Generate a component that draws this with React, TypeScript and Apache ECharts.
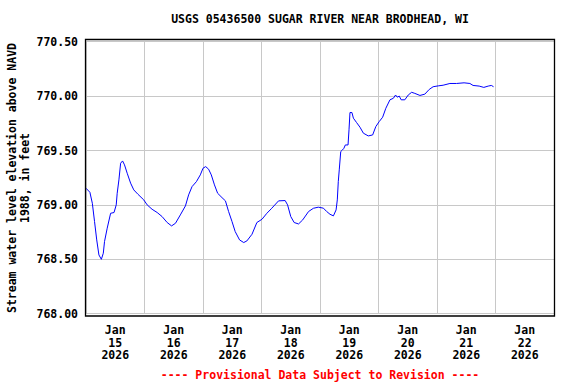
import React, { useEffect, useRef } from "react";
import * as echarts from "echarts";

const TITLE = "USGS 05436500 SUGAR RIVER NEAR BRODHEAD, WI";
const Y_NAME = "Stream water level elevation above NAVD\n1988, in feet";
const FOOTER = "---- Provisional Data Subject to Revision ----";

const dayLabels = [
  "Jan\n15\n2026",
  "Jan\n16\n2026",
  "Jan\n17\n2026",
  "Jan\n18\n2026",
  "Jan\n19\n2026",
  "Jan\n20\n2026",
  "Jan\n21\n2026",
  "Jan\n22\n2026",
];

// hours since 2026-01-15 00:00
const hours = [
  0, 1.6, 2.6, 3.5, 4.4, 5.3, 6.3, 7.1, 7.6, 8.7, 10.1, 11.5, 12.4, 12.8, 13.5, 14.2, 15.0, 15.8,
  16.9, 18.3, 19.6, 21.3, 23.7, 25.1, 27.1, 29.2, 31.2, 33.3, 35.1, 36.7, 38.7, 40.8, 42.1, 43.5,
  45.3, 46.9, 48.0, 49.1, 50.3, 51.4, 52.7, 54.0, 55.8, 57.2, 58.5, 59.9, 61.2, 63.0, 64.7, 66.0,
  68.1, 70.1, 72.2, 74.2, 76.2, 79.0, 81.7, 82.7, 84.0, 85.4, 87.2, 88.9, 91.3, 93.3, 95.3, 97.4,
  98.7, 100.1, 101.5, 102.6, 103.1, 103.5, 103.9, 104.5, 105.2, 105.8, 106.4, 107.5, 107.9, 108.3,
  109.1, 109.7, 111.0, 112.4, 113.8, 115.8, 117.6, 118.9, 120.3, 121.7, 123.0, 124.7, 126.1, 127.0,
  127.7, 128.5, 129.3, 130.8, 132.2, 133.6, 134.9, 137.0, 139.0, 140.8, 142.4, 144.5, 146.5, 149.3,
  152.0, 155.1, 157.5, 158.8, 161.3, 163.2, 165.0, 166.3, 167.2,
];

const levels = [
  769.153, 769.116, 769.015, 768.847, 768.678, 768.54, 768.5, 768.556, 768.663, 768.786, 768.923,
  768.93, 769.0, 769.107, 769.23, 769.383, 769.404, 769.368, 769.291, 769.2, 769.138, 769.098,
  769.046, 769.0, 768.96, 768.93, 768.893, 768.838, 768.807, 768.831, 768.908, 768.991, 769.092,
  769.168, 769.214, 769.276, 769.337, 769.352, 769.328, 769.276, 769.184, 769.107, 769.067, 769.037,
  768.939, 768.847, 768.755, 768.678, 768.654, 768.669, 768.73, 768.838, 768.868, 768.923, 768.969,
  769.037, 769.04, 769.0, 768.893, 768.838, 768.825, 768.862, 768.939, 768.969, 768.979, 768.97,
  768.94, 768.914, 768.899, 768.954, 769.046, 769.214, 769.322, 769.49, 769.505, 769.52, 769.551,
  769.551, 769.69, 769.849, 769.849, 769.797, 769.757, 769.714, 769.659, 769.634, 769.643, 769.72,
  769.766, 769.806, 769.888, 769.966, 769.98, 770.01, 769.99, 770.0, 769.966, 769.966, 770.01,
  770.035, 770.025, 770.006, 770.018, 770.061, 770.086, 770.094, 770.1, 770.116, 770.116, 770.122,
  770.116, 770.098, 770.092, 770.08, 770.092, 770.098, 770.086,
];

const Y_MIN = 768;
const Y_MAX = 770.5;
const Y_STEP = 0.5;

const FONT = "'DejaVu Sans Mono', 'Liberation Mono', monospace";

export default function App() {
  const ref = useRef<HTMLDivElement>(null);

  useEffect(() => {
    if (!ref.current) return;
    const chart = echarts.init(ref.current, null, { renderer: "svg" });
    const data = hours.map((h, i) => [h, levels[i]]);
    chart.setOption({
      animation: false,
      backgroundColor: "#ffffff",
      grid: { left: 86, right: 22, top: 41.7, bottom: 70.3, containLabel: false },
      xAxis: [
        {
          type: "category",
          data: dayLabels,
          boundaryGap: true,
          axisLine: { show: false },
          axisTick: { show: false },
          splitLine: { show: true, interval: 0, lineStyle: { color: "#c8c8c8", width: 1 } },
          axisLabel: {
            interval: 0,
            margin: 10,
            color: "#000",
            fontFamily: FONT,
            fontWeight: "bold",
            fontSize: 11.5,
            lineHeight: 12.7,
          },
        },
        {
          type: "value",
          min: 0,
          max: 192,
          show: false,
          splitLine: { show: false },
        },
      ],
      yAxis: {
        type: "value",
        min: Y_MIN,
        max: Y_MAX,
        interval: Y_STEP,
        axisLine: { show: false },
        axisTick: { show: false },
        splitLine: { show: true, lineStyle: { color: "#c8c8c8", width: 1 } },
        axisLabel: {
          margin: 8,
          color: "#000",
          fontFamily: FONT,
          fontWeight: "bold",
          fontSize: 11.5,
          formatter: (v: number) => v.toFixed(2),
        },
      },
      series: [
        {
          type: "line",
          xAxisIndex: 1,
          data,
          showSymbol: false,
          symbol: "none",
          lineStyle: { color: "#0000ff", width: 1 },
        },
      ],
      graphic: [
        {
          type: "rect",
          shape: { x: 85.5, y: 39.5, width: 469, height: 276.5 },
          style: { fill: "none", stroke: "#000", lineWidth: 1.3 },
          z: 100,
        },
        {
          type: "text",
          x: 320,
          y: 19,
          style: {
            text: TITLE,
            fill: "#000",
            font: `bold 11.5px ${FONT}`,
            textAlign: "center",
            textVerticalAlign: "middle",
          },
        },
        {
          type: "text",
          x: 18.5,
          y: 178,
          rotation: Math.PI / 2,
          style: {
            text: Y_NAME,
            fill: "#000",
            font: `bold 11.5px ${FONT}`,
            lineHeight: 13,
            textAlign: "center",
            textVerticalAlign: "middle",
          },
        },
        {
          type: "text",
          x: 320,
          y: 375,
          style: {
            text: FOOTER,
            fill: "#ff0000",
            font: `bold 11.5px ${FONT}`,
            textAlign: "center",
            textVerticalAlign: "middle",
          },
        },
      ],
    });
    return () => chart.dispose();
  }, []);

  return (
    <div
      ref={ref}
      style={{ position: "absolute", left: 0, top: 0, width: 576, height: 384 }}
    />
  );
}
